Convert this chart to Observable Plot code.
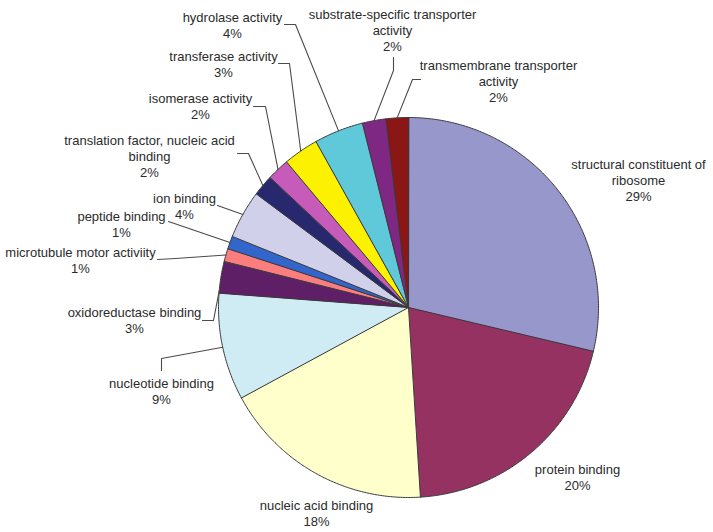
<!DOCTYPE html>
<html>
<head>
<meta charset="utf-8">
<script src="https://cdn.jsdelivr.net/npm/d3@7"></script>
<script src="https://cdn.jsdelivr.net/npm/@observablehq/plot@0.6"></script>
<style>
  html, body { margin: 0; padding: 0; background: #ffffff; }
  #chart svg { display: block; background: #ffffff; }
</style>
</head>
<body>
<div id="chart"></div>
<script>
// ---- data ----
const categories = [
  "structural constituent of ribosome",
  "protein binding",
  "nucleic acid binding",
  "nucleotide binding",
  "oxidoreductase binding",
  "microtubule motor activiity",
  "peptide binding",
  "ion binding",
  "translation factor, nucleic acid binding",
  "isomerase activity",
  "transferase activity",
  "hydrolase activity",
  "substrate-specific transporter activity",
  "transmembrane transporter activity"
];
const values = [28.7, 20.3, 18.1, 9.1, 2.7, 1.1, 1.1, 4.1, 1.8, 1.9, 3.0, 4.2, 2.0, 1.9];
const labelNames = [
  "structural constituent of\nribosome",
  "protein binding",
  "nucleic acid binding",
  "nucleotide binding",
  "oxidoreductase binding",
  "microtubule motor activiity",
  "peptide binding",
  "ion binding",
  "translation factor, nucleic acid\nbinding",
  "isomerase activity",
  "transferase activity",
  "hydrolase activity",
  "substrate-specific transporter\nactivity",
  "transmembrane transporter\nactivity"
];

// ---- styles / layout ----
const colors = ["#9797cc", "#963262", "#ffffcc", "#cfecf5", "#5e1f66", "#fb7d7d", "#3366cc",
                "#d1d0ea", "#28286e", "#c75bb9", "#fcf200", "#5fc8d9", "#7e2884", "#8a1616"];
const W = 713, H = 532;
const cx = 408, cy = 307, R = 190;
// label block centres (pixels)
const labelPos = [
  [638, 179], [577, 476], [316, 512], [161, 390], [134, 319.5], [80, 259], [121, 223],
  [184, 205], [149, 155], [200, 105], [223, 63.5], [232, 24.5], [392, 29.5], [498, 80]
];
// leader line points from the label to the elbow (null = no leader); frac = where on the slice edge it ends
const leaderPts = [
  null, null, null,
  [[161, 370], [161, 358]],
  [[202, 320], [213, 320]],
  [[157, 259], [175, 258]],
  [[168, 221]],
  [[217, 205]],
  [[237, 153], [248, 153]],
  [[253, 106], [265, 106]],
  [[278, 63], [289, 63]],
  [[284, 24], [295, 24]],
  [[393, 57], [393, 70]],
  [[420, 79], [412, 79]]
];
const leaderFrac = [0.5, 0.5, 0.5, 0.5, 0.08, 0.5, 0.5, 0.5, 0.5, 0.5, 0.5, 0.5, 0.5, 0.5];

// ---- build geometry ----
const total = d3.sum(values);
const arcs = d3.pie().sort(null).value(d => d)(values);
const pt = (a, r) => [cx + r * Math.sin(a), cy - r * Math.cos(a)];

const slicePts = [];
arcs.forEach((a, i) => {
  const n = Math.max(2, Math.ceil((a.endAngle - a.startAngle) / (Math.PI / 360)));
  slicePts.push({name: categories[i], color: colors[i], x: cx, y: cy});
  for (let k = 0; k <= n; k++) {
    const t = a.startAngle + (a.endAngle - a.startAngle) * k / n;
    const [x, y] = pt(t, R);
    slicePts.push({name: categories[i], color: colors[i], x, y});
  }
});

const leaders = [];
arcs.forEach((a, i) => {
  if (!leaderPts[i]) return;
  leaderPts[i].forEach(([x, y]) => leaders.push({name: categories[i], x, y}));
  const t = a.startAngle + (a.endAngle - a.startAngle) * leaderFrac[i];
  const [x, y] = pt(t, R);
  leaders.push({name: categories[i], x, y});
});

const labels = categories.map((c, i) => ({
  name: c,
  text: labelNames[i] + "\n" + Math.round(values[i] / total * 100) + "%",
  x: labelPos[i][0],
  y: labelPos[i][1]
}));

const chart = Plot.plot({
  width: W,
  height: H,
  margin: 0,
  x: {domain: [0, W], range: [0, W], axis: null},
  y: {domain: [0, H], range: [0, H], axis: null},
  color: {type: "identity"},
  style: {background: "#ffffff", fontFamily: "'Liberation Sans', Arial, sans-serif"},
  marks: [
    Plot.line(slicePts, {x: "x", y: "y", z: "name", fill: "color", stroke: "#3a3a3a",
      strokeWidth: 1, curve: "linear-closed", strokeLinejoin: "round"}),
    Plot.line(leaders, {x: "x", y: "y", z: "name", stroke: "#4a4a4a", strokeWidth: 1.1}),
    Plot.text(labels, {x: "x", y: "y", text: "text", fontSize: 13, lineHeight: 1.24,
      fill: "#2b2b2b", textAnchor: "middle", lineAnchor: "middle",
      fontFamily: "'Liberation Sans', Arial, sans-serif"})
  ]
});
document.getElementById("chart").appendChild(chart);
</script>
</body>
</html>
